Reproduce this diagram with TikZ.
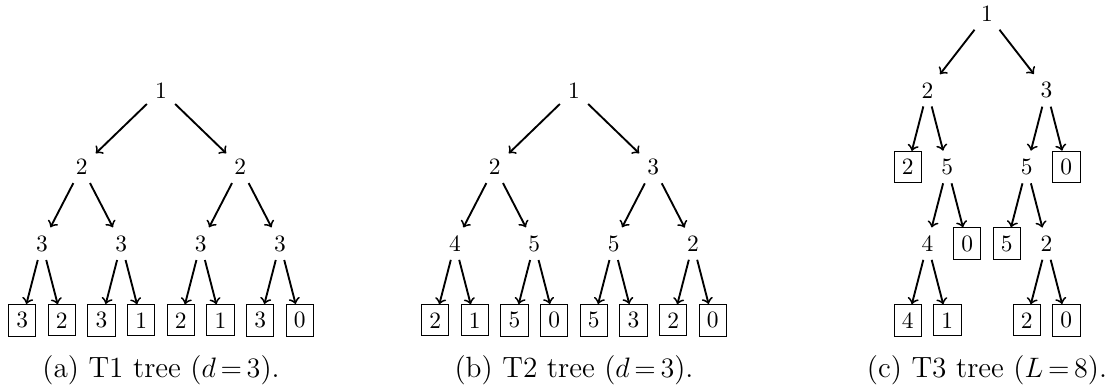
\documentclass[tikz,border=0pt]{standalone}
\usepackage{amsmath, amssymb}
\usepackage{tikz}

\begin{document}
\begin{tikzpicture}[leaf/.style={draw}, subcap/.style={anchor=base, font=\fontsize{12.5}{15}\selectfont}]
	\useasboundingbox (0, 0) rectangle (16.695, 5.835);

	% (a) T1
	\node (a0) at (2.415, 4.48) {1};
	\node (a1) at (1.225, 3.33) {2};
	\node (a2) at (3.605, 3.33) {2};
	\node (a3) at (0.63, 2.18) {3};
	\node (a4) at (1.82, 2.18) {3};
	\node (a5) at (3.01, 2.18) {3};
	\node (a6) at (4.2, 2.18) {3};
	\node[leaf] (a7) at (0.3325, 1.03) {3};
	\node[leaf] (a8) at (0.9275, 1.03) {2};
	\node[leaf] (a9) at (1.5225, 1.03) {3};
	\node[leaf] (a10) at (2.1175, 1.03) {1};
	\node[leaf] (a11) at (2.7125, 1.03) {2};
	\node[leaf] (a12) at (3.3075, 1.03) {1};
	\node[leaf] (a13) at (3.9025, 1.03) {3};
	\node[leaf] (a14) at (4.4975, 1.03) {0};
	\draw[->, thick] (a0) -- (a1); \draw[->, thick] (a0) -- (a2);
	\draw[->, thick] (a1) -- (a3); \draw[->, thick] (a1) -- (a4);
	\draw[->, thick] (a2) -- (a5); \draw[->, thick] (a2) -- (a6);
	\draw[->, thick] (a3) -- (a7); \draw[->, thick] (a3) -- (a8);
	\draw[->, thick] (a4) -- (a9); \draw[->, thick] (a4) -- (a10);
	\draw[->, thick] (a5) -- (a11); \draw[->, thick] (a5) -- (a12);
	\draw[->, thick] (a6) -- (a13); \draw[->, thick] (a6) -- (a14);
	\node[subcap] (ca) at (2.415, 0.18) {(a) T1 tree ($d\,{=}\,3$).};

	% (b) T2
	\node (b0) at (8.61, 4.48) {1};
	\node (b1) at (7.42, 3.33) {2};
	\node (b2) at (9.8, 3.33) {3};
	\node (b3) at (6.825, 2.18) {4};
	\node (b4) at (8.015, 2.18) {5};
	\node (b5) at (9.205, 2.18) {5};
	\node (b6) at (10.395, 2.18) {2};
	\node[leaf] (b7) at (6.5275, 1.03) {2};
	\node[leaf] (b8) at (7.1225, 1.03) {1};
	\node[leaf] (b9) at (7.7175, 1.03) {5};
	\node[leaf] (b10) at (8.3125, 1.03) {0};
	\node[leaf] (b11) at (8.9075, 1.03) {5};
	\node[leaf] (b12) at (9.5025, 1.03) {3};
	\node[leaf] (b13) at (10.0975, 1.03) {2};
	\node[leaf] (b14) at (10.6925, 1.03) {0};
	\draw[->, thick] (b0) -- (b1); \draw[->, thick] (b0) -- (b2);
	\draw[->, thick] (b1) -- (b3); \draw[->, thick] (b1) -- (b4);
	\draw[->, thick] (b2) -- (b5); \draw[->, thick] (b2) -- (b6);
	\draw[->, thick] (b3) -- (b7); \draw[->, thick] (b3) -- (b8);
	\draw[->, thick] (b4) -- (b9); \draw[->, thick] (b4) -- (b10);
	\draw[->, thick] (b5) -- (b11); \draw[->, thick] (b5) -- (b12);
	\draw[->, thick] (b6) -- (b13); \draw[->, thick] (b6) -- (b14);
	\node[subcap] (cb) at (8.61, 0.18) {(b) T2 tree ($d\,{=}\,3$).};

	% (c) T3
	\node (c0) at (14.805, 5.63) {1};
	\node (c1) at (13.9125, 4.48) {2};
	\node (c2) at (15.6975, 4.48) {3};
	\node[leaf] (c3) at (13.615, 3.33) {2};
	\node (c4) at (14.21, 3.33) {5};
	\node (c5) at (15.4, 3.33) {5};
	\node[leaf] (c6) at (15.995, 3.33) {0};
	\node (c7) at (13.9125, 2.18) {4};
	\node[leaf] (c8) at (14.5075, 2.18) {0};
	\node[leaf] (c9) at (15.1025, 2.18) {5};
	\node (c10) at (15.6975, 2.18) {2};
	\node[leaf] (c11) at (13.615, 1.03) {4};
	\node[leaf] (c12) at (14.21, 1.03) {1};
	\node[leaf] (c13) at (15.4, 1.03) {2};
	\node[leaf] (c14) at (15.995, 1.03) {0};
	\draw[->, thick] (c0) -- (c1); \draw[->, thick] (c0) -- (c2);
	\draw[->, thick] (c1) -- (c3); \draw[->, thick] (c1) -- (c4);
	\draw[->, thick] (c4) -- (c7); \draw[->, thick] (c4) -- (c8);
	\draw[->, thick] (c7) -- (c11); \draw[->, thick] (c7) -- (c12);
	\draw[->, thick] (c2) -- (c5); \draw[->, thick] (c2) -- (c6);
	\draw[->, thick] (c5) -- (c9); \draw[->, thick] (c5) -- (c10);
	\draw[->, thick] (c10) -- (c13); \draw[->, thick] (c10) -- (c14);
	\node[subcap] (cc) at (14.805, 0.18) {(c) T3 tree ($L\,{=}\,8$).};
\end{tikzpicture}
\end{document}
